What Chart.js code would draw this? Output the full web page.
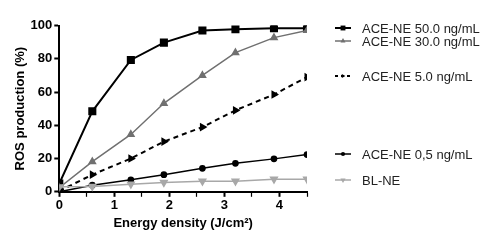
<!DOCTYPE html>
<html>
<head>
<meta charset="utf-8">
<script src="https://cdn.jsdelivr.net/npm/chart.js@4/dist/chart.umd.min.js"></script>
<style>
  html, body { margin: 0; padding: 0; background: #fff; }
  #wrap { width: 500px; height: 242px; }
</style>
</head>
<body>
<div id="wrap"><canvas id="myChart" width="500" height="242"></canvas></div>
<script>
const canvas = document.getElementById('myChart')
let myChart

// energy density (J/cm2)
const energy = [0, 0.6, 1.3, 1.9, 2.6, 3.2, 3.9, 4.5]

// ROS production (%)
const ace50 = [5, 48.4, 79.3, 89.7, 97, 97.8, 98.4, 98.4]
const ace30 = [2.5, 18.1, 34.5, 53.2, 70, 83.7, 92.7, 97]
const ace5 = [0.5, 10.3, 20, 30.2, 38.9, 49, 58.5, 69]
const ace05 = [0, 4, 7.2, 10.3, 14.1, 17.1, 19.8, 22.4]
const blne = [3, 3.2, 4.6, 5.6, 6.4, 6.4, 7.6, 7.6]

const seriesNames = ['ACE-NE 50.0 ng/mL', 'ACE-NE 30.0 ng/mL', 'ACE-NE 5.0 ng/mL', 'ACE-NE 0,5 ng/mL', 'BL-NE']

// y position of each legend row
const legendY = [28, 41, 76, 154, 180]

const fontFam = '"Liberation Sans", Arial, sans-serif'

function pts(values) {
    return values.map((v, i) => ({x: energy[i], y: v}))
}

const sideLegend = {
    id: 'sideLegend',
    afterDraw(chart) {
        const ctx = chart.ctx
        ctx.save()
        chart.data.datasets.forEach(ds => {
            const i = seriesNames.indexOf(ds.label)
            const y = legendY[i]
            ctx.strokeStyle = ds.borderColor
            ctx.lineWidth = ds.borderWidth
            ctx.setLineDash(ds.borderDash ? [3, 3] : [])
            ctx.beginPath()
            ctx.moveTo(335, y)
            ctx.lineTo(351, y)
            ctx.stroke()
            ctx.setLineDash([])
            ctx.fillStyle = ds.pointBackgroundColor
            ctx.strokeStyle = ds.pointBackgroundColor
            Chart.helpers.drawPoint(ctx, {
                pointStyle: ds.pointStyle,
                radius: ds.pointRadius * 0.8,
                rotation: ds.pointRotation || 0,
                borderWidth: 0
            }, 343, y)
            ctx.fillStyle = '#222'
            ctx.font = '13px ' + fontFam
            ctx.textBaseline = 'middle'
            ctx.fillText(seriesNames[i], 362, y + 1)
        })
        ctx.restore()
    }
}

function createChart() {
    const config = {
        type: 'line',
        data: {
            datasets: [
                {label: seriesNames[0], data: pts(ace50), borderColor: '#000', pointBackgroundColor: '#000',
                    borderWidth: 2, pointStyle: 'rect', pointRadius: 4.3},
                {label: seriesNames[1], data: pts(ace30), borderColor: '#707070', pointBackgroundColor: '#707070',
                    borderWidth: 1.5, pointStyle: 'triangle', pointRadius: 3.6},
                {label: seriesNames[2], data: pts(ace5), borderColor: '#000', pointBackgroundColor: '#000',
                    borderWidth: 2, borderDash: [5, 4], pointStyle: 'triangle', pointRotation: 90, pointRadius: 3},
                {label: seriesNames[3], data: pts(ace05), borderColor: '#000', pointBackgroundColor: '#000',
                    borderWidth: 1.5, pointStyle: 'circle', pointRadius: 2.6},
                {label: seriesNames[4], data: pts(blne), borderColor: '#a8a8a8', pointBackgroundColor: '#a8a8a8',
                    borderWidth: 1.5, pointStyle: 'triangle', pointRotation: 180, pointRadius: 3.8}
            ].reverse()
        },
        options: {
            responsive: false,
            animation: false,
            layout: {
                padding: {left: 13, right: 193, top: 25.5, bottom: 11}
            },
            elements: {
                line: {tension: 0},
                point: {borderWidth: 0, hoverRadius: 4}
            },
            plugins: {
                legend: {display: false},
                tooltip: {enabled: false}
            },
            scales: {
                x: {
                    type: 'linear',
                    min: 0,
                    max: 4.5,
                    ticks: {
                        stepSize: 0.5,
                        color: '#000',
                        padding: 1,
                        maxRotation: 0,
                        font: {family: fontFam, size: 13, weight: 'bold'},
                        callback: v => Number.isInteger(v) ? v : ''
                    },
                    grid: {
                        drawOnChartArea: false,
                        tickLength: 5,
                        tickColor: '#000',
                        tickWidth: c => (c.tick && Number.isInteger(c.tick.value)) ? 2 : 1.2
                    },
                    border: {color: '#000', width: 2},
                    title: {
                        display: true,
                        text: 'Energy density (J/cm²)',
                        color: '#000',
                        padding: {top: 1, bottom: 0},
                        font: {family: fontFam, size: 13, weight: 'bold'}
                    }
                },
                y: {
                    min: 0,
                    max: 100,
                    ticks: {
                        stepSize: 20,
                        color: '#000',
                        padding: 2,
                        font: {family: fontFam, size: 13, weight: 'bold'}
                    },
                    grid: {
                        drawOnChartArea: false,
                        tickLength: 5,
                        tickColor: '#000',
                        tickWidth: 2
                    },
                    border: {color: '#000', width: 2},
                    title: {
                        display: true,
                        text: 'ROS production (%)',
                        color: '#000',
                        padding: {top: 0, bottom: 0},
                        font: {family: fontFam, size: 13, weight: 'bold'}
                    }
                }
            }
        },
        plugins: [sideLegend]
    }

    myChart = new Chart(canvas, config)
}

createChart()
</script>
</body>
</html>
